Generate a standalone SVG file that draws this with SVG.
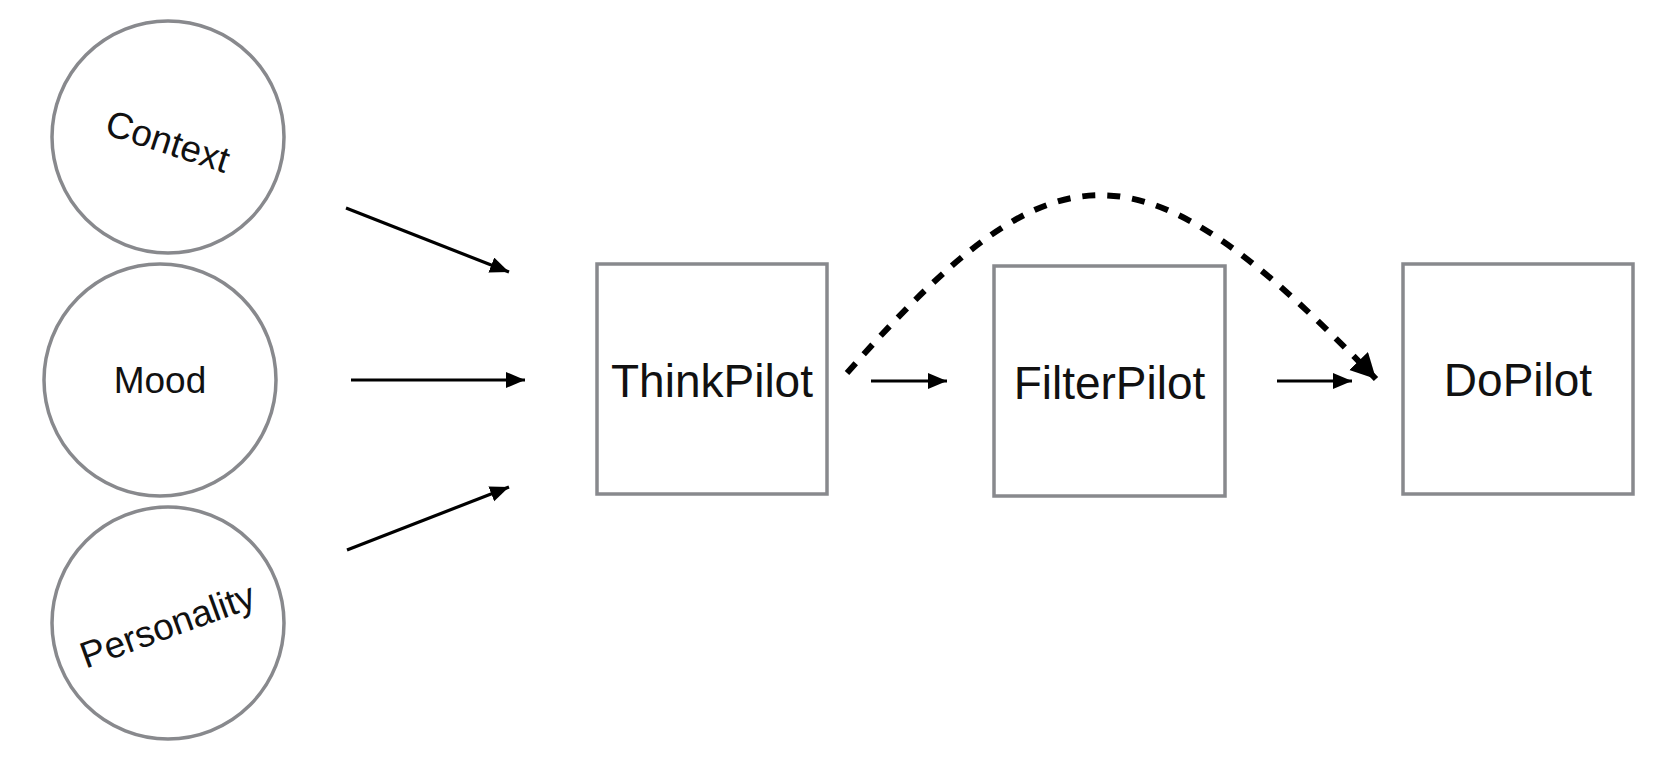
<svg xmlns="http://www.w3.org/2000/svg" width="1668" height="772" viewBox="0 0 1668 772">
<style>
.shape{fill:#ffffff;stroke:#88898d;stroke-width:3.5}
.lbl{font-family:"Liberation Sans",Arial,sans-serif;fill:#111111;text-anchor:middle}
.cl{font-size:37px}
.bl{font-size:46px}
.ar{stroke:#000000;stroke-width:3.2;fill:none}
.dash{stroke:#000000;stroke-width:6;fill:none;stroke-dasharray:13 12}
</style>
<defs>
<marker id="ah" markerUnits="userSpaceOnUse" markerWidth="20" markerHeight="17" refX="19" refY="8" orient="auto">
<path d="M0,0 L19,8 L0,16 z" fill="#000000"/>
</marker>
<marker id="ahBig" markerUnits="userSpaceOnUse" markerWidth="27" markerHeight="27" refX="25" refY="13" orient="auto">
<path d="M0,0 L25,13 L0,26 z" fill="#000000"/>
</marker>
</defs>
<rect width="1668" height="772" fill="#ffffff"/>
<g id="context">
<circle class="shape" cx="168" cy="137" r="116"/>
<text class="lbl cl" x="168" y="154" transform="rotate(18 168 141)">Context</text>
</g>
<g id="mood">
<circle class="shape" cx="160" cy="380" r="116"/>
<text class="lbl cl" x="160" y="393">Mood</text>
</g>
<g id="personality">
<circle class="shape" cx="168" cy="623" r="116"/>
<text class="lbl cl" x="168" y="638" transform="rotate(-20 168 627)">Personality</text>
</g>
<g id="thinkpilot">
<rect class="shape" x="597" y="264" width="230" height="230"/>
<text class="lbl bl" x="712" y="397">ThinkPilot</text>
</g>
<g id="filterpilot">
<rect class="shape" x="994" y="266" width="231" height="230"/>
<text class="lbl bl" x="1109.5" y="399">FilterPilot</text>
</g>
<g id="dopilot">
<rect class="shape" x="1403" y="264" width="230" height="230"/>
<text class="lbl bl" x="1518" y="396">DoPilot</text>
</g>
<g id="connectors">
<line class="ar" x1="346" y1="208" x2="509" y2="272" marker-end="url(#ah)"/>
<line class="ar" x1="351" y1="380" x2="525" y2="380" marker-end="url(#ah)"/>
<line class="ar" x1="347" y1="550" x2="509" y2="487" marker-end="url(#ah)"/>
<line class="ar" x1="871" y1="381" x2="947" y2="381" marker-end="url(#ah)"/>
<line class="ar" x1="1277" y1="381" x2="1352" y2="381" marker-end="url(#ah)"/>
<path class="dash" d="M847,373 C1057,135 1140,135 1376,379" marker-end="url(#ahBig)"/>
</g>
</svg>
